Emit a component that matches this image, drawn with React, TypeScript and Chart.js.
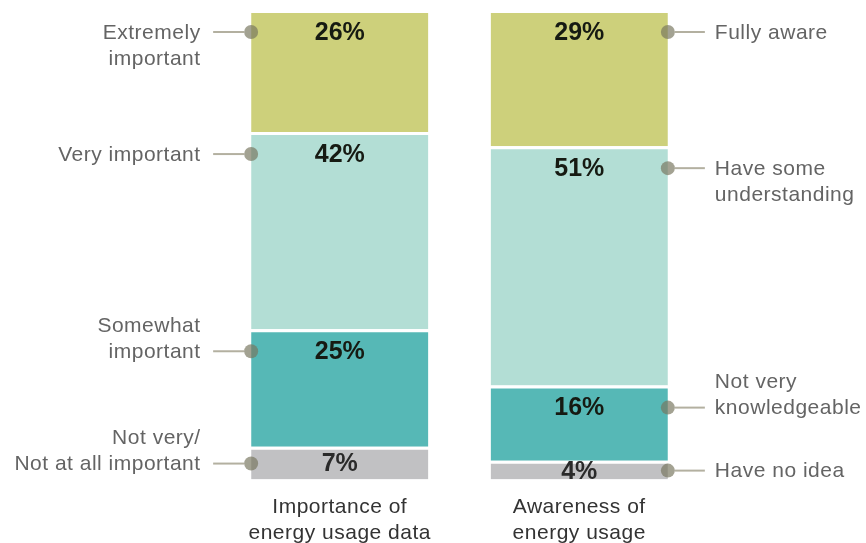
import React, { useEffect, useRef } from "react";
import { Chart, registerables } from "chart.js";

Chart.register(...registerables);

// ---- data ----
const categories = [
  ["Importance of", "energy usage data"],
  ["Awareness of", "energy usage"],
];
// levels from top of bar to bottom
const topValues = [26, 29];
const secondValues = [42, 51];
const thirdValues = [25, 16];
const bottomValues = [7, 4];
const percentLabels = [
  ["26%", "29%"],
  ["42%", "51%"],
  ["25%", "16%"],
  ["7%", "4%"],
];
const leftLabels = [
  ["Extremely", "important"],
  ["Very important"],
  ["Somewhat", "important"],
  ["Not very/", "Not at all important"],
];
const rightLabels = [
  ["Fully aware"],
  ["Have some", "understanding"],
  ["Not very", "knowledgeable"],
  ["Have no idea"],
];
const leftAnchorLine = [0, 0, 1, 1];
const rightAnchorLine = [0, 0, 1, 0];
const levelColors = ["#cdd07b", "#b3ded5", "#56b8b6", "#c1c1c3"];

const FONT = "'Liberation Sans', Arial, Helvetica, sans-serif";
const GAP = 3;

const labelPlugin = {
  id: "segLabels",
  afterDatasetsDraw(chart: any) {
    const ctx = chart.ctx as CanvasRenderingContext2D;
    const nLevels = 4;
    for (let level = 0; level < nLevels; level++) {
      const dsIndex = nLevels - 1 - level;
      const meta = chart.getDatasetMeta(dsIndex);
      meta.data.forEach((el: any, i: number) => {
        const p = el.getProps(["x", "y", "base", "width"], true);
        const top = p.y + GAP;
        const bottom = p.base;
        const ly = Math.min(top + 19, (top + bottom) / 2 - 1);
        ctx.save();
        // connector + dot
        const left = i === 0;
        const dotX = left ? p.x - p.width / 2 : p.x + p.width / 2;
        const r = 7;
        ctx.strokeStyle = "#b3b0a0";
        ctx.lineWidth = 2;
        ctx.beginPath();
        if (left) {
          ctx.moveTo(dotX - 38, ly);
          ctx.lineTo(dotX - r, ly);
        } else {
          ctx.moveTo(dotX + r, ly);
          ctx.lineTo(dotX + 37, ly);
        }
        ctx.stroke();
        ctx.fillStyle = "rgba(120,118,95,0.68)";
        ctx.beginPath();
        ctx.arc(dotX, ly, r, 0, Math.PI * 2);
        ctx.fill();
        // side label text
        const lines = left ? leftLabels[level] : rightLabels[level];
        const anchor = left ? leftAnchorLine[level] : rightAnchorLine[level];
        ctx.font = `21px ${FONT}`;
        (ctx as any).letterSpacing = "0.5px";
        ctx.fillStyle = "#646464";
        ctx.textBaseline = "middle";
        ctx.textAlign = left ? "right" : "left";
        const tx = left ? dotX - 50.5 : dotX + 47;
        lines.forEach((t, k) => {
          ctx.fillText(t, tx, ly + 1 + (k - anchor) * 26);
        });
        // percentage
        (ctx as any).letterSpacing = "0px";
        ctx.font = `bold 25px ${FONT}`;
        ctx.fillStyle = level === 3 ? "#2a2a2a" : "#161a12";
        ctx.textAlign = "center";
        ctx.fillText(percentLabels[level][i], p.x, ly + 1);
        ctx.restore();
      });
    }
    // category labels
    const xs = chart.scales.x;
    const base = chart.chartArea.bottom;
    ctx.save();
    ctx.font = `21px ${FONT}`;
    (ctx as any).letterSpacing = "0.5px";
    ctx.fillStyle = "#333333";
    ctx.textAlign = "center";
    ctx.textBaseline = "middle";
    categories.forEach((lines, i) => {
      const x = xs.getPixelForValue(i);
      lines.forEach((t, k) => ctx.fillText(t, x, base + 28 + k * 26));
    });
    ctx.restore();
  },
};

export default function App() {
  const ref = useRef<HTMLCanvasElement | null>(null);
  useEffect(() => {
    if (!ref.current) return;
    const mk = (label: string, data: number[], color: string) => ({
      label,
      data,
      backgroundColor: color,
      borderColor: "#ffffff",
      borderWidth: { top: GAP, bottom: 0, left: 0, right: 0 },
      borderSkipped: false,
      stack: "s",
      categoryPercentage: 0.74,
      barPercentage: 1,
    });
    const chart = new Chart(ref.current, {
      type: "bar",
      data: {
        labels: categories.map((c) => c.join(" ")),
        datasets: [
          mk("bottom", bottomValues, levelColors[3]),
          mk("third", thirdValues, levelColors[2]),
          mk("second", secondValues, levelColors[1]),
          mk("top", topValues, levelColors[0]),
        ],
      },
      options: {
        animation: false,
        responsive: false,
        maintainAspectRatio: false,
        layout: { padding: { left: 220, right: 167, top: 10, bottom: 63.5 } },
        plugins: { legend: { display: false }, tooltip: { enabled: false } },
        scales: {
          x: { display: false, stacked: true },
          y: { display: false, stacked: true, min: 0, max: 100 },
        },
      } as any,
      plugins: [labelPlugin],
    });
    return () => chart.destroy();
  }, []);
  return (
    <div style={{ position: "fixed", left: 0, top: 0, width: 866, height: 543, background: "#fff" }}>
      <canvas ref={ref} width={866} height={543} style={{ width: 866, height: 543 }} />
    </div>
  );
}
